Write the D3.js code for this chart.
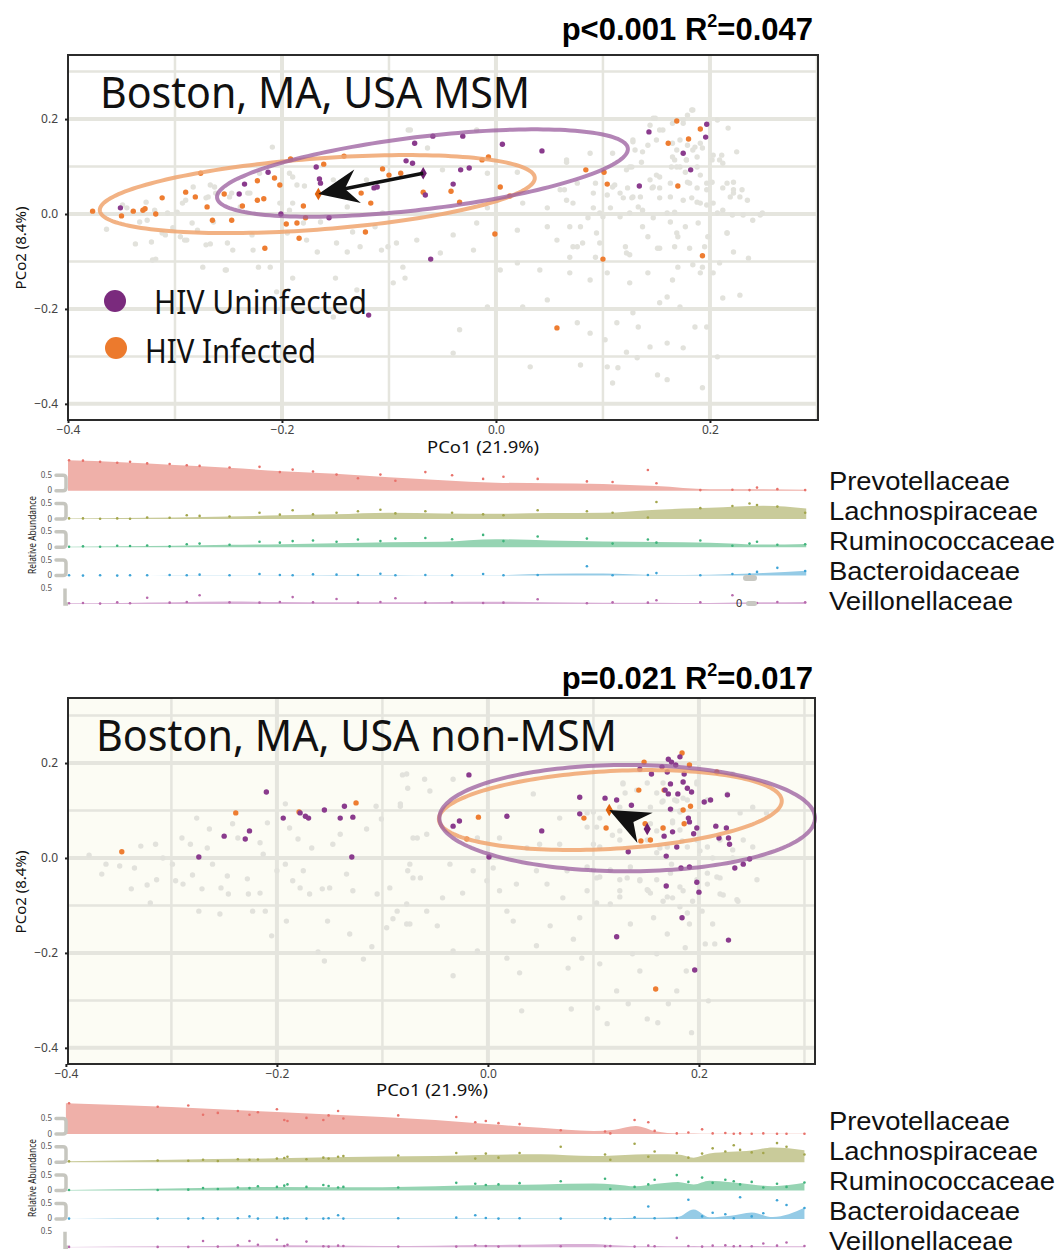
<!DOCTYPE html>
<html>
<head>
<meta charset="utf-8">
<script src="https://cdn.jsdelivr.net/npm/d3@7"></script>
<style>
body { margin: 0; background: #fff; }
svg { display: block; }
text { font-family: "Noto Sans", sans-serif; }
</style>
</head>
<body>
<div class="visholder"></div>
<script>
let width = 1060,
    height = 1256;

const families = ["Prevotellaceae", "Lachnospiraceae", "Ruminococcaceae", "Bacteroidaceae", "Veillonellaceae"];
const familyFill = ["#efb0a9", "#c9cb9a", "#96d4b3", "#95cbe6", "#d9b0d6"];
const familyDot = ["#e8726b", "#a3a64c", "#3fb47c", "#3ea4d7", "#b86aad"];
const familyLabelLen = [181, 209, 226, 191, 184];

const tickValues = [-0.4, -0.2, 0, 0.2];
const gridX = [-0.3, -0.2, -0.1, 0, 0.1, 0.2, 0.3];
const gridY = [-0.4, -0.3, -0.2, -0.1, 0, 0.1, 0.2, 0.3];
const legendLabels = ["HIV Uninfected", "HIV Infected"];

// ---- MSM panel: PCoA points
const msmGrey = [
[-0.364,-0.032],[-0.337,-0.063],[-0.327,0.025],[-0.318,-0.095],[-0.312,-0.040],[-0.302,-0.029],[-0.295,-0.048],[-0.289,-0.055],[-0.283,0.057],[-0.274,-0.112],[-0.269,0.036],[-0.267,-0.063],[-0.263,0.057],[-0.252,-0.118],[-0.251,-0.061],[-0.246,-0.076],[-0.232,0.044],[-0.227,-0.076],[-0.222,-0.112],[-0.211,-0.112],[-0.209,0.141],[-0.205,-0.164],[-0.195,-0.040],[-0.190,-0.135],[-0.179,0.059],[-0.177,-0.055],[-0.167,-0.080],[-0.164,-0.017],[-0.150,-0.135],[-0.152,-0.217],[-0.149,-0.061],[-0.139,-0.080],[-0.134,-0.038],[-0.130,-0.160],[-0.127,-0.069],[-0.113,-0.027],[-0.107,-0.076],[-0.101,-0.069],[-0.096,-0.145],[-0.093,-0.061],[-0.087,-0.112],[-0.085,-0.135],[-0.082,0.177],[-0.349,0.019],[-0.290,0.029],[-0.239,0.015],[-0.190,0.023],[-0.139,0.015],[-0.152,0.072],[-0.190,0.078],[-0.121,0.072],[-0.326,-0.013],[-0.249,0.036],[-0.106,0.002],
[-0.345,0.013],[-0.333,-0.017],[-0.322,-0.059],[-0.319,0.008],[-0.321,-0.097],[-0.309,-0.044],[-0.307,0.002],[-0.298,0.004],[-0.291,-0.055],[-0.284,-0.019],[-0.293,0.023],[-0.279,-0.034],[-0.271,-0.065],[-0.267,0.061],[-0.271,0.034],[-0.264,-0.017],[-0.262,0.044],[-0.247,0.044],[-0.230,0.044],[-0.228,-0.044],[-0.221,0.086],[-0.202,0.023],[-0.193,0.086],[-0.186,0.061],[-0.180,-0.019],[-0.193,0.008],[-0.253,-0.118],
[-0.080,0.177],[-0.064,0.139],[-0.018,0.177],[-0.050,0.093],[-0.008,0.086],[0.020,0.088],[0.066,0.114],[0.088,0.128],[0.128,0.156],[0.147,0.202],[0.156,0.177],[0.183,0.219],[0.175,0.198],[0.207,0.198],[0.217,0.181],[0.225,0.131],[0.209,0.114],[0.165,0.120],[0.169,0.099],[0.178,0.114],[0.184,0.135],[0.191,0.149],[0.153,0.078],[0.147,0.057],[0.125,0.099],[0.116,0.044],[0.109,0.057],[0.197,0.065],[0.216,0.065],[0.222,0.044],[0.235,0.029],[0.240,-0.013],[0.249,0.002],[0.207,0.002],[0.191,0.023],[0.175,0.029],[0.160,0.002],[0.137,0.008],[0.097,0.002],[0.072,0.023],[0.048,0.013],[0.025,0.023],[-0.008,0.013],[-0.018,-0.019],[-0.040,-0.044],[-0.074,-0.055],[-0.052,-0.082],[-0.021,-0.076],[0.020,-0.034],[0.048,-0.027],[0.057,-0.055],[0.072,-0.069],[0.094,-0.040],[0.122,-0.082],[0.142,-0.048],[0.151,-0.072],[0.169,-0.040],[0.181,-0.072],[0.198,-0.048],[0.216,-0.040],[0.222,-0.080],[0.236,-0.093],[0.209,-0.103],[0.191,-0.124],[0.165,-0.139],[0.160,-0.175],[0.172,-0.196],[0.153,-0.187],[0.128,-0.208],[0.125,-0.145],[0.104,-0.124],[0.088,-0.139],[0.069,-0.124],[0.041,-0.118],[0.020,-0.103],[0.004,-0.118],[-0.008,-0.196],[-0.034,-0.244],[-0.040,-0.293],[0.025,-0.196],[0.048,-0.181],[0.076,-0.229],[0.088,-0.251],[0.102,-0.265],[0.113,-0.229],[0.133,-0.238],[0.144,-0.280],[0.160,-0.272],[0.175,-0.282],[0.186,-0.238],[0.197,-0.238],[0.207,-0.301],[0.228,-0.171],[0.212,-0.177],[0.193,-0.366],[0.160,-0.349],[0.151,-0.339],[0.109,-0.356],[0.114,-0.324],[0.132,-0.303],[0.079,-0.318],[0.032,-0.322],[0.104,-0.322],[0.122,-0.291],[0.219,0.036],[0.203,0.023],[0.181,0.065],[0.163,0.036],[0.128,0.036],[0.091,0.044],[0.060,0.051],
[0.184,0.219],[0.179,0.208],[0.165,0.191],[0.175,0.191],[0.149,0.202],[0.153,0.177],[0.144,0.187],[0.137,0.131],[0.142,0.145],[0.150,0.156],[0.128,0.152],[0.130,0.135],[0.136,0.109],[0.165,0.149],[0.169,0.135],[0.172,0.156],[0.179,0.145],[0.186,0.141],[0.193,0.139],[0.188,0.120],[0.178,0.114],[0.167,0.114],[0.164,0.099],[0.172,0.099],[0.177,0.088],[0.188,0.099],[0.191,0.082],[0.179,0.067],[0.202,0.114],[0.203,0.124],[0.212,0.107],[0.211,0.124],[0.202,0.067],[0.197,0.051],[0.188,0.055],[0.183,0.034],[0.188,0.025],[0.197,0.019],[0.222,0.067],[0.230,0.051],[0.222,0.051],[0.228,0.036],[0.212,0.055],[0.212,0.008],[0.221,-0.002],[0.231,-0.002],[0.247,-0.002],[0.216,-0.040],[0.195,-0.069],[0.189,-0.019],[0.177,-0.027],[0.170,-0.048],[0.167,-0.069],[0.184,-0.107],[0.170,-0.112],[0.153,-0.072],[0.137,-0.027],[0.147,-0.008],[0.163,-0.017],[0.167,0.004],[0.153,0.034],[0.146,0.055],[0.153,0.055],[0.144,0.072],[0.150,0.082],[0.163,0.065],[0.135,0.036],[0.123,0.055],[0.119,0.034],[0.127,0.034],[0.111,0.061],[0.104,0.040],[0.107,0.013],[0.091,0.013],[0.086,-0.008],[0.100,-0.006],[0.116,-0.006],[0.125,0.002],[0.133,0.015],[0.121,-0.069],[0.125,-0.086],[0.097,-0.061],[0.081,-0.061],[0.076,-0.069],[0.069,-0.091],[0.093,-0.091],[0.079,-0.027],[0.069,-0.027],[0.066,0.029],[0.064,0.051],[0.076,0.065],[0.093,0.065],[0.109,0.128],[0.066,0.109],[0.127,0.099],[0.122,0.093],[0.142,-0.124],[0.193,-0.112],[0.203,-0.124]
];
const msmUninfected = [
[-0.351,0.013],[-0.235,0.063],[-0.240,0.042],[-0.213,0.088],[-0.201,0.000],[-0.168,0.099],[-0.165,0.074],[-0.164,0.065],[-0.156,-0.008],[-0.119,-0.213],[-0.114,0.055],[-0.111,0.057],[-0.084,0.112],[-0.078,0.107],[-0.076,0.149],[-0.059,0.164],[-0.031,0.164],[0.006,0.147],[0.043,0.133],[-0.033,0.093],[-0.025,0.097],[-0.040,0.063],[-0.066,0.040],[-0.061,-0.095],[0.143,0.173],[0.134,0.059],[0.197,0.189],[0.196,0.162],[0.175,0.128],[0.182,0.093]
];
const msmInfected = [
[-0.377,0.006],[-0.350,-0.004],[-0.339,0.006],[-0.330,0.008],[-0.328,0.011],[-0.318,0.000],[-0.312,0.034],[-0.290,0.046],[-0.281,0.036],[-0.276,0.086],[-0.270,0.015],[-0.265,-0.013],[-0.254,0.042],[-0.247,-0.013],[-0.237,0.017],[-0.223,0.070],[-0.223,0.029],[-0.217,0.032],[-0.216,-0.072],[-0.207,0.076],[-0.202,0.061],[-0.196,-0.021],[-0.192,0.116],[-0.186,-0.019],[-0.184,-0.051],[-0.180,0.017],[-0.178,-0.008],[-0.161,0.105],[-0.142,0.122],[-0.126,0.044],[-0.122,-0.038],[-0.117,0.023],[-0.106,0.095],[-0.100,0.082],[-0.089,0.086],[-0.013,0.114],[-0.007,0.120],[0.004,0.057],[-0.042,0.048],[-0.068,0.046],[-0.034,0.025],[0.013,0.038],[-0.001,-0.042],[0.084,0.093],[0.101,0.088],[0.104,0.063],[0.100,-0.095],[0.057,-0.240],[0.161,0.149],[0.169,0.196],[0.180,0.158],[0.191,0.179],[0.170,0.059],[0.193,-0.088]
];
const msmCentroids = { uninf: [-0.068, 0.086], inf: [-0.166, 0.042] };
// ellipse: centre x, centre y, half-axis dx, half-axis dy, vertical half-height
const msmEllipses = { uninf: [-0.0687, 0.0863, 0.192, 0.0505, 0.077], inf: [-0.167, 0.042, 0.2033, 0.0337, 0.075] };

// ---- non-MSM panel: PCoA points
const nonGrey = [
[-0.378,0.006],[-0.366,-0.034],[-0.362,-0.013],[-0.349,-0.017],[-0.338,-0.065],[-0.335,-0.021],[-0.329,0.025],[-0.323,-0.057],[-0.320,-0.095],[-0.315,0.029],[-0.314,-0.046],[-0.308,0.000],[-0.299,-0.013],[-0.296,-0.048],[-0.290,0.042],[-0.289,-0.055],[-0.282,0.029],[-0.280,-0.036],[-0.276,0.084],[-0.274,-0.112],[-0.271,-0.065],[-0.266,0.021],[-0.264,0.061],[-0.261,-0.013],[-0.254,-0.118],[-0.253,-0.063],[-0.247,-0.038],[-0.246,-0.076],[-0.242,0.072],[-0.237,0.042],[-0.227,-0.076],[-0.228,-0.044],[-0.223,-0.112],[-0.216,0.032],[-0.216,-0.074],[-0.211,-0.112],[-0.213,0.008],[-0.209,0.074],[-0.205,-0.164],[-0.200,-0.027],[-0.192,0.114],[-0.192,-0.013],[-0.191,-0.133],[-0.188,0.063],[-0.185,-0.048],[-0.180,0.040],[-0.178,-0.063],[-0.175,-0.027],[-0.169,-0.076],[-0.167,0.021],[-0.161,-0.198],[-0.155,-0.217],[-0.152,-0.133],[-0.157,-0.065],[-0.150,-0.063],[-0.147,0.029],[-0.140,0.050],[-0.134,-0.034],[-0.131,-0.160],[-0.128,-0.069],[-0.118,-0.213],[-0.115,0.061],[-0.110,-0.187],[-0.106,0.109],[-0.105,-0.076],[-0.101,0.082],[-0.096,-0.147],[-0.093,-0.063],[-0.090,-0.128],[-0.086,-0.112],[-0.083,0.109],[-0.081,0.175],[-0.076,0.147],[-0.076,-0.027],[-0.077,-0.139],[-0.067,0.042],[-0.071,-0.042],
[-0.071,0.042],[-0.058,0.050],[-0.074,-0.013],[-0.064,-0.042],[-0.077,-0.097],[-0.058,-0.112],[-0.074,-0.139],[-0.048,-0.143],[-0.043,-0.084],[-0.036,-0.013],[-0.033,-0.196],[-0.033,-0.248],[-0.024,-0.074],[-0.014,-0.027],[-0.010,-0.196],[-0.001,-0.048],[0.005,-0.021],[0.011,-0.069],[0.018,-0.112],[0.018,-0.211],[0.024,-0.133],[0.027,-0.055],[0.030,-0.242],[0.032,-0.322],[0.037,0.021],[0.043,0.135],[0.046,-0.027],[0.046,-0.185],[0.056,-0.055],[0.059,-0.143],[0.068,0.084],[0.068,0.029],[0.071,-0.084],[0.075,-0.027],[0.076,-0.232],[0.079,-0.318],[0.081,-0.171],[0.087,-0.126],[0.089,-0.211],[0.094,-0.069],[0.100,0.029],[0.103,-0.042],[0.104,-0.316],[0.106,-0.223],[0.113,-0.349],[0.116,-0.097],[0.122,-0.280],[0.125,-0.069],[0.128,0.156],[0.132,-0.042],[0.133,-0.307],[0.135,-0.139],[0.137,-0.202],[0.144,-0.048],[0.144,-0.238],[0.151,-0.339],[0.152,-0.069],[0.154,0.072],[0.157,-0.126],[0.160,-0.202],[0.161,-0.347],[0.163,0.021],[0.166,-0.091],[0.170,-0.160],[0.171,-0.307],[0.174,-0.013],[0.175,-0.084],[0.179,0.120],[0.179,-0.280],[0.184,0.036],[0.185,-0.069],[0.187,-0.189],[0.188,-0.238],[0.191,-0.139],[0.193,-0.368],[0.194,-0.091],[0.198,0.156],[0.201,0.015],[0.203,-0.112],[0.206,-0.181],[0.208,-0.055],[0.209,-0.301],[0.213,0.000],[0.213,-0.139],[0.215,-0.181],[0.220,-0.042],[0.220,-0.076],[0.227,0.135],[0.232,0.000],[0.237,-0.091],[0.182,0.099],[0.175,0.078],[0.166,0.120],[0.185,0.126],[0.160,0.057],[0.125,0.057],[0.106,0.084],[0.049,0.029],[0.011,0.042],[-0.010,0.042],[0.232,0.177],[-0.055,0.141],[-0.033,0.166],[-0.077,0.177],[-0.060,0.166],[-0.083,0.114],
[0.128,0.158],[0.130,0.137],[0.151,0.158],[0.160,0.137],[0.154,0.107],[0.125,0.107],[0.100,0.097],[0.103,0.065],[0.094,0.065],[0.118,0.048],[0.125,0.038],[0.106,0.023],[0.151,0.038],[0.160,0.011],[0.165,0.118],[0.166,0.063],[0.174,0.101],[0.177,0.122],[0.182,0.097],[0.189,0.122],[0.185,0.160],[0.198,0.160],[0.182,0.059],[0.175,0.074],[0.189,0.023],[0.170,0.023],[0.198,0.038],[0.208,0.023],[0.208,0.122],[0.227,0.133],[0.220,0.038],[0.217,-0.040],[0.208,-0.032],[0.198,-0.046],[0.182,-0.061],[0.173,-0.032],[0.160,-0.046],[0.151,-0.067],[0.154,-0.074],[0.170,-0.082],[0.144,-0.046],[0.135,-0.019],[0.125,-0.046],[0.116,-0.025],[0.106,-0.040],[0.100,-0.025],[0.094,-0.019],[0.125,-0.082],[0.103,-0.095],[0.182,-0.103],[0.189,-0.116],[0.223,-0.078],[0.236,-0.088],[0.255,-0.046],[0.251,0.023],[0.242,0.038],[0.232,0.017],[0.251,0.107],[0.239,0.095],[0.264,0.095],[0.166,0.158],[0.141,0.143],[0.094,0.095]
];
const nonUninfected = [
[-0.274,0.002],[-0.250,0.046],[-0.230,0.040],[-0.226,0.057],[-0.210,0.139],[-0.194,0.084],[-0.178,0.095],[-0.173,0.088],[-0.170,0.084],[-0.155,0.101],[-0.140,0.084],[-0.136,0.109],[-0.128,0.086],[-0.129,0.002],
[-0.018,0.175],[-0.033,0.067],[-0.027,0.078],[0.018,0.088],[0.001,0.002],[0.051,0.057],[0.087,0.128],[0.087,0.093],[0.111,0.126],[0.122,0.122],[0.136,0.111],[0.133,0.013],[0.144,0.187],[0.155,0.177],[0.165,0.192],[0.171,0.208],[0.174,0.202],[0.178,0.196],[0.182,0.213],[0.186,0.177],[0.170,0.181],[0.173,0.156],[0.168,0.143],[0.185,0.160],[0.189,0.147],[0.193,0.139],[0.180,0.135],[0.171,0.135],[0.173,0.103],[0.190,0.084],[0.191,0.076],[0.198,0.063],[0.195,0.051],[0.175,0.055],[0.167,0.046],[0.179,0.023],[0.169,0.004],[0.205,0.118],[0.211,0.122],[0.227,0.133],[0.216,0.067],[0.226,0.063],[0.219,0.042],[0.228,0.042],[0.229,0.029],[0.234,-0.021],[0.242,-0.013],[0.248,-0.002],[0.183,-0.021],[0.191,-0.019],[0.169,-0.059],[0.198,-0.051],[0.200,-0.072],[0.184,-0.126],[0.122,-0.166],[0.228,-0.173],[0.196,-0.236]
];
const nonInfected = [
[-0.347,0.013],[-0.239,0.095],[-0.179,0.097],[-0.125,0.116],[0.184,0.221],[0.148,0.202],[0.191,0.196],[0.217,0.181],[0.143,0.143],[0.167,0.143],[0.192,0.109],[0.185,0.101],[0.186,0.072],[0.166,0.063],[0.112,0.063],[0.091,0.084],[-0.009,0.086],[-0.020,0.040],[0.149,0.072],[0.154,0.038],[0.145,0.036],[0.159,-0.276]
];
const nonCentroids = { uninf: [0.151, 0.061], inf: [0.115, 0.101] };
const nonEllipses = { uninf: [0.132, 0.084, 0.178, 0.0, 0.112], inf: [0.116, 0.101, 0.1625, 0.019, 0.082] };

// ---- relative abundance strips
const msmKnots = [-0.40,-0.35,-0.30,-0.25,-0.20,-0.15,-0.10,-0.05,0.00,0.05,0.10,0.15,0.20,0.25,0.29];
const msmCurves = [
  [0.98,0.92,0.83,0.74,0.63,0.55,0.43,0.34,0.26,0.24,0.22,0.15,0.05,0.05,0.03],
  [0.02,0.03,0.05,0.08,0.12,0.15,0.20,0.18,0.17,0.19,0.20,0.30,0.36,0.43,0.34],
  [0.02,0.03,0.05,0.08,0.10,0.13,0.16,0.18,0.26,0.22,0.19,0.17,0.15,0.09,0.11],
  [0.00,0.00,0.01,0.01,0.01,0.02,0.02,0.01,0.01,0.06,0.07,0.02,0.03,0.08,0.16],
  [0.02,0.03,0.05,0.08,0.06,0.05,0.05,0.06,0.07,0.05,0.04,0.04,0.03,0.05,0.06]
];
const msmSampleX = [-0.399,-0.386,-0.370,-0.354,-0.342,-0.326,-0.305,-0.289,-0.277,-0.249,-0.221,-0.202,-0.190,-0.171,-0.149,-0.129,-0.108,-0.094,-0.066,-0.041,-0.012,0.007,0.039,0.085,0.109,0.142,0.150,0.191,0.221,0.237,0.244,0.263,0.289];
const msmSamples = [
  [0.98,0.97,0.93,0.90,0.93,0.88,0.86,0.82,0.80,0.75,0.77,0.60,0.68,0.62,0.52,0.40,0.52,0.32,0.60,0.50,0.38,0.45,0.38,0.30,0.28,0.67,0.24,0.02,0.03,0.02,0.10,0.05,0.02],
  [0.02,0.02,0.01,0.02,0.01,0.05,0.04,0.12,0.10,0.08,0.20,0.14,0.28,0.15,0.20,0.25,0.30,0.18,0.25,0.20,0.15,0.12,0.28,0.25,0.20,0.05,0.55,0.35,0.42,0.50,0.45,0.40,0.20],
  [0.02,0.03,0.02,0.05,0.04,0.06,0.03,0.10,0.12,0.08,0.18,0.15,0.20,0.22,0.18,0.25,0.20,0.28,0.30,0.26,0.40,0.20,0.35,0.28,0.12,0.25,0.15,0.22,0.05,0.12,0.18,0.08,0.10],
  [0.01,0.00,0.01,0.00,0.01,0.01,0.02,0.01,0.03,0.01,0.05,0.02,0.01,0.04,0.03,0.02,0.06,0.01,0.02,0.01,0.05,0.01,0.02,0.30,0.01,0.02,0.08,0.01,0.05,0.04,0.12,0.25,0.15],
  [0.02,0.03,0.01,0.05,0.02,0.20,0.04,0.06,0.28,0.05,0.04,0.06,0.22,0.05,0.16,0.04,0.06,0.18,0.04,0.05,0.03,0.04,0.15,0.02,0.05,0.04,0.12,0.05,0.28,0.04,0.03,0.06,0.05]
];

const nonKnots = [-0.40,-0.30,-0.20,-0.10,-0.05,0.00,0.05,0.10,0.12,0.14,0.16,0.18,0.195,0.21,0.23,0.25,0.27,0.30];
const nonCurves = [
  [0.99,0.87,0.71,0.55,0.45,0.32,0.20,0.10,0.14,0.26,0.08,0.02,0.02,0.01,0.01,0.01,0.01,0.01],
  [0.03,0.08,0.13,0.19,0.20,0.24,0.26,0.20,0.22,0.25,0.26,0.25,0.15,0.28,0.34,0.38,0.48,0.39],
  [0.02,0.07,0.12,0.11,0.14,0.18,0.20,0.23,0.20,0.14,0.22,0.28,0.20,0.32,0.27,0.20,0.14,0.25],
  [0.00,0.01,0.01,0.01,0.01,0.01,0.01,0.01,0.02,0.04,0.04,0.06,0.30,0.05,0.10,0.21,0.06,0.36],
  [0.01,0.03,0.06,0.04,0.05,0.07,0.09,0.10,0.06,0.03,0.04,0.03,0.04,0.03,0.03,0.04,0.03,0.03]
];
const nonSampleX = [-0.397,-0.313,-0.284,-0.270,-0.256,-0.237,-0.226,-0.218,-0.200,-0.193,-0.190,-0.172,-0.156,-0.151,-0.142,-0.137,-0.085,-0.030,-0.012,-0.002,0.010,0.030,0.069,0.111,0.116,0.139,0.152,0.158,0.179,0.190,0.203,0.213,0.225,0.233,0.239,0.250,0.261,0.274,0.283,0.300];
const nonSamples = [
  [0.99,0.88,0.92,0.62,0.68,0.74,0.62,0.70,0.80,0.45,0.42,0.52,0.45,0.60,0.74,0.50,0.60,0.55,0.38,0.42,0.35,0.32,0.12,0.08,0.02,0.45,0.38,0.10,0.02,0.05,0.15,0.02,0.03,0.01,0.02,0.01,0.02,0.01,0.01,0.01],
  [0.03,0.06,0.05,0.08,0.04,0.10,0.08,0.09,0.12,0.14,0.18,0.10,0.15,0.12,0.18,0.20,0.22,0.30,0.12,0.28,0.15,0.30,0.50,0.25,0.08,0.60,0.18,0.35,0.30,0.15,0.28,0.45,0.35,0.55,0.40,0.32,0.30,0.62,0.50,0.25],
  [0.02,0.02,0.03,0.08,0.05,0.10,0.08,0.14,0.12,0.16,0.20,0.12,0.18,0.15,0.10,0.12,0.10,0.25,0.22,0.18,0.20,0.24,0.30,0.38,0.05,0.12,0.20,0.35,0.50,0.28,0.42,0.25,0.35,0.30,0.20,0.28,0.10,0.22,0.12,0.26],
  [0.01,0.01,0.01,0.02,0.01,0.02,0.08,0.01,0.04,0.01,0.02,0.01,0.01,0.02,0.12,0.01,0.02,0.04,0.12,0.03,0.01,0.02,0.01,0.02,0.00,0.05,0.40,0.02,0.03,0.62,0.08,0.20,0.15,0.02,0.70,0.08,0.18,0.60,0.45,0.35],
  [0.01,0.01,0.01,0.20,0.02,0.06,0.20,0.08,0.24,0.04,0.08,0.18,0.03,0.02,0.05,0.04,0.02,0.02,0.06,0.04,0.02,0.04,0.03,0.03,0.04,0.02,0.05,0.03,0.30,0.04,0.02,0.05,0.06,0.03,0.04,0.03,0.12,0.05,0.15,0.04]
];

const panels = [
  {
    title: "Boston, MA, USA MSM", titleX: 100, titleY: 108, titleLen: 430,
    stat: ["p<0.001 R", "2", "=0.047"], statY: 40,
    left: 68, right: 818, top: 55, bottom: 420,
    xDomain: [-0.4, 0.301], yDomain: [-0.434, 0.335], bg: "#ffffff",
    xLabelX: 483, xLabelY: 453, yLabelY: 248,
    grey: msmGrey, uninf: msmUninfected, inf: msmInfected,
    centroids: msmCentroids, ellipses: msmEllipses,
    stripBase: 490.7, labelBase: 490, raY: 535,
    knots: msmKnots, curves: msmCurves, sampleX: msmSampleX, samples: msmSamples,
    legend: true
  },
  {
    title: "Boston, MA, USA non-MSM", titleX: 96, titleY: 751, titleLen: 521,
    stat: ["p=0.021 R", "2", "=0.017"], statY: 689,
    left: 68, right: 815, top: 698, bottom: 1064,
    xDomain: [-0.398, 0.310], yDomain: [-0.434, 0.337], bg: "#fcfcf4",
    xLabelX: 432, xLabelY: 1096, yLabelY: 892,
    grey: nonGrey, uninf: nonUninfected, inf: nonInfected,
    centroids: nonCentroids, ellipses: nonEllipses,
    stripBase: 1134, labelBase: 1130, raY: 1178,
    knots: nonKnots, curves: nonCurves, sampleX: nonSampleX, samples: nonSamples,
    legend: false
  }
];

const purple = "#8a3b8d",
    orange = "#ee7d31",
    grey = "#e2e2dc";

var svg = d3.select(".visholder")
    .append("svg")
    .attr("width", width)
    .attr("height", height);

svg.append("rect").attr("width", width).attr("height", height).attr("fill", "#fff");

function ellipsePoints(e) {
    return d3.range(0, 2 * Math.PI, Math.PI / 90).map(function (t) {
        return [e[0] + e[2] * Math.cos(t), e[1] + e[3] * Math.cos(t) + e[4] * Math.sin(t)];
    });
}

function arrowHead(tx, ty, fx, fy) {
    const dx = tx - fx, dy = ty - fy, len = Math.hypot(dx, dy);
    const ux = dx / len, uy = dy / len, nx = -uy, ny = ux;
    const L = 40, hw = 17, notch = 27;
    const bx = tx - ux * L, by = ty - uy * L;
    return {
        head: [[tx, ty], [bx + nx * hw, by + ny * hw], [tx - ux * notch, ty - uy * notch], [bx - nx * hw, by - ny * hw]],
        notch: [tx - ux * notch, ty - uy * notch]
    };
}

function drawPanel(p) {
    const g = svg.append("g");
    const x = d3.scaleLinear().domain(p.xDomain).range([p.left, p.right]);
    const y = d3.scaleLinear().domain(p.yDomain).range([p.bottom, p.top]);

    g.append("rect")
        .attr("x", p.left).attr("y", p.top)
        .attr("width", p.right - p.left).attr("height", p.bottom - p.top)
        .attr("fill", p.bg);

    g.selectAll(".gx").data(gridX).enter().append("line")
        .attr("x1", d => x(d)).attr("x2", d => x(d))
        .attr("y1", p.top).attr("y2", p.bottom)
        .attr("stroke", "#e5e5de")
        .attr("stroke-width", d => Math.abs(Math.round(d * 10)) % 2 === 0 ? 4 : 2.5);
    g.selectAll(".gy").data(gridY).enter().append("line")
        .attr("x1", p.left).attr("x2", p.right)
        .attr("y1", d => y(d)).attr("y2", d => y(d))
        .attr("stroke", "#e5e5de")
        .attr("stroke-width", d => Math.abs(Math.round(d * 10)) % 2 === 0 ? 4 : 2.5);

    g.selectAll(".grey").data(p.grey).enter().append("circle")
        .attr("cx", d => x(d[0])).attr("cy", d => y(d[1])).attr("r", 2.7)
        .attr("fill", grey);
    g.selectAll(".inf").data(p.inf).enter().append("circle")
        .attr("cx", d => x(d[0])).attr("cy", d => y(d[1])).attr("r", 2.7)
        .attr("fill", orange);
    g.selectAll(".uninf").data(p.uninf).enter().append("circle")
        .attr("cx", d => x(d[0])).attr("cy", d => y(d[1])).attr("r", 2.7)
        .attr("fill", purple);

    const ell = d3.line().x(d => x(d[0])).y(d => y(d[1])).curve(d3.curveLinearClosed);
    g.append("path").attr("d", ell(ellipsePoints(p.ellipses.inf)))
        .attr("fill", "none").attr("stroke", "#f0a56f").attr("stroke-opacity", 0.85).attr("stroke-width", 4);
    g.append("path").attr("d", ell(ellipsePoints(p.ellipses.uninf)))
        .attr("fill", "none").attr("stroke", "#9a5c9e").attr("stroke-opacity", 0.75).attr("stroke-width", 4);

    // centroid shift arrow
    const ux = x(p.centroids.uninf[0]), uy = y(p.centroids.uninf[1]);
    const ix = x(p.centroids.inf[0]), iy = y(p.centroids.inf[1]);
    g.append("path").attr("d", d3.symbol(d3.symbolDiamond, 45)())
        .attr("transform", `translate(${ux},${uy})`).attr("fill", "#6d1f6f");
    g.append("path").attr("d", d3.symbol(d3.symbolDiamond, 45)())
        .attr("transform", `translate(${ix},${iy})`).attr("fill", "#e0640f");
    const arr = arrowHead(ix, iy, ux, uy);
    if (Math.hypot(ux - arr.notch[0], uy - arr.notch[1]) > 30) {
        g.append("line")
            .attr("x1", ux).attr("y1", uy).attr("x2", arr.notch[0]).attr("y2", arr.notch[1])
            .attr("stroke", "#111").attr("stroke-width", 3.5);
    }
    g.append("path").attr("d", "M" + arr.head.join("L") + "Z").attr("fill", "#111");

    g.append("rect")
        .attr("x", p.left).attr("y", p.top)
        .attr("width", p.right - p.left).attr("height", p.bottom - p.top)
        .attr("fill", "none").attr("stroke", "#2b2b2b").attr("stroke-width", 2);

    var yAxis = g.append("g")
        .attr("transform", `translate(${p.left},0)`)
        .call(d3.axisLeft(y).tickValues(tickValues).tickFormat(d3.format(".1f")).tickSize(3).tickPadding(7));
    var xAxis = g.append("g")
        .attr("transform", `translate(0,${p.bottom})`)
        .call(d3.axisBottom(x).tickValues(tickValues).tickFormat(d3.format(".1f")).tickSize(3).tickPadding(2));
    [xAxis, yAxis].forEach(function (a) {
        a.select(".domain").remove();
        a.attr("font-family", "Noto Sans").attr("font-size", 12);
        a.selectAll("line").attr("stroke", "#222").attr("stroke-width", 2);
        a.selectAll("text").attr("fill", "#444");
    });

    g.append("text")
        .attr("x", p.xLabelX).attr("y", p.xLabelY)
        .attr("text-anchor", "middle").attr("font-size", 15.5).attr("fill", "#111")
        .attr("textLength", 112).attr("lengthAdjust", "spacingAndGlyphs")
        .text("PCo1 (21.9%)");
    g.append("text")
        .attr("transform", `translate(26,${p.yLabelY}) rotate(-90)`)
        .attr("text-anchor", "middle").attr("font-size", 15).attr("fill", "#111")
        .text("PCo2 (8.4%)");

    g.append("text")
        .attr("x", p.titleX).attr("y", p.titleY)
        .attr("font-size", 44).attr("fill", "#111")
        .attr("textLength", p.titleLen).attr("lengthAdjust", "spacingAndGlyphs")
        .text(p.title);

    var stat = g.append("text")
        .attr("x", 813).attr("y", p.statY)
        .attr("text-anchor", "end")
        .style("font-family", "'Liberation Sans', Arial, sans-serif")
        .attr("font-weight", "bold").attr("font-size", 31).attr("fill", "#000");
    stat.append("tspan").text(p.stat[0]);
    stat.append("tspan").attr("font-size", 18).attr("dy", -13).text(p.stat[1]);
    stat.append("tspan").attr("dy", 13).text(p.stat[2]);

    if (p.legend) {
        const lg = g.append("g");
        lg.selectAll("circle").data(legendLabels).enter().append("circle")
            .attr("cx", (d, i) => 115 + i)
            .attr("cy", (d, i) => 301 + i * 47)
            .attr("r", 11)
            .attr("fill", (d, i) => i === 0 ? "#7a2a7d" : "#ec7a2d");
        lg.selectAll("text").data(legendLabels).enter().append("text")
            .attr("x", (d, i) => i === 0 ? 154 : 145)
            .attr("y", (d, i) => 314 + i * 49)
            .attr("font-size", 33).attr("fill", "#111")
            .attr("textLength", (d, i) => i === 0 ? 213 : 171)
            .attr("lengthAdjust", "spacingAndGlyphs")
            .text(d => d);
    }

    // abundance strips
    const rowGap = 28.3, unit = 31;
    const sg = svg.append("g");
    p.curves.forEach(function (vals, i) {
        const base = p.stripBase + i * rowGap;
        const area = d3.area()
            .x(d => x(d[0]))
            .y0(base)
            .y1(d => base - d[1] * unit)
            .curve(d3.curveMonotoneX);
        sg.append("path")
            .attr("d", area(p.knots.map((k, j) => [k, vals[j]])))
            .attr("fill", familyFill[i]);
        sg.selectAll(".dot" + i).data(p.sampleX).enter().append("circle")
            .attr("cx", d => x(d))
            .attr("cy", (d, j) => base - p.samples[i][j] * unit)
            .attr("r", 1.3)
            .attr("fill", familyDot[i]);

        const t = base - 0.5 * unit;
        if (i < 4) {
            sg.append("path")
                .attr("d", `M56,${t}H63Q66,${t} 66,${t + 3}V${base - 3}Q66,${base} 63,${base}H56`)
                .attr("fill", "none").attr("stroke", "#c6c6bf").attr("stroke-width", 3.5)
                .attr("stroke-linecap", "round");
            sg.append("text").attr("x", 52).attr("y", base + 2.5).attr("text-anchor", "end")
                .attr("font-size", 8).attr("fill", "#555").text("0");
        } else {
            sg.append("path")
                .attr("d", `M65,${t}V${base}H68`)
                .attr("fill", "none").attr("stroke", "#c6c6bf").attr("stroke-width", 3.5);
        }
        sg.append("text").attr("x", 52).attr("y", t + 2.5)
            .attr("text-anchor", "end").attr("font-size", 8).attr("fill", "#555").text("0.5");

        sg.append("text")
            .attr("x", 829).attr("y", p.labelBase + i * 30)
            .style("font-family", "'Liberation Sans', Arial, sans-serif")
            .attr("font-size", 26).attr("fill", "#111")
            .attr("textLength", familyLabelLen[i]).attr("lengthAdjust", "spacingAndGlyphs")
            .text(families[i]);
    });

    sg.append("text")
        .attr("transform", `translate(36,${p.raY}) rotate(-90)`)
        .attr("text-anchor", "middle").attr("font-size", 10).attr("fill", "#222")
        .attr("textLength", 78).attr("lengthAdjust", "spacingAndGlyphs")
        .text("Relative Abundance");
}

panels.forEach(drawPanel);

// stray marks left in the original figure
svg.append("rect").attr("x", 743).attr("y", 575).attr("width", 14).attr("height", 6).attr("rx", 3).attr("fill", "#c8c8c2");
svg.append("rect").attr("x", 746).attr("y", 601).attr("width", 11).attr("height", 5).attr("rx", 2.5).attr("fill", "#c8c8c2");
svg.append("text").attr("x", 736).attr("y", 607).attr("font-size", 11).attr("fill", "#333").text("0");
</script>
</body>
</html>
